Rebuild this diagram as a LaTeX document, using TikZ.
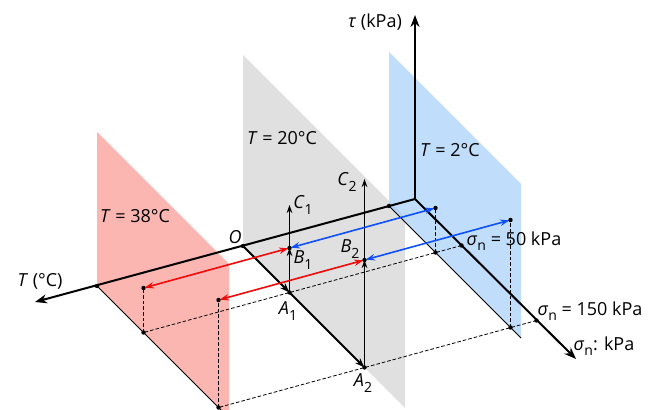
\documentclass[tikz,border=0pt]{standalone}
\usepackage{fontspec}
\setmainfont{Open Sans}
\usetikzlibrary{arrows.meta}

\definecolor{planered}{RGB}{252,182,177}
\definecolor{planegray}{RGB}{224,224,224}
\definecolor{planeblue}{RGB}{165,208,250}
\definecolor{arrred}{RGB}{240,10,10}
\definecolor{arrblue}{RGB}{15,80,250}

\newcommand{\sub}[2]{\textit{#1}\raisebox{-0.3em}{\fontsize{7pt}{7pt}\selectfont #2}}

\tikzset{
  axisline/.style={line width=1pt, -{Stealth[length=6pt,width=4.5pt]}},
  patharr/.style={line width=1pt, -{Stealth[length=5pt,width=3.5pt]}},
  vertarr/.style={line width=0.75pt, -{Stealth[length=4pt,width=2.8pt]}},
  redarr/.style={arrred, line width=0.8pt, {Stealth[length=4.6pt,width=3.2pt]}-{Stealth[length=4.6pt,width=3.2pt]}, shorten <=0.6pt, shorten >=0.6pt},
  bluearr/.style={arrblue, line width=0.8pt, {Stealth[length=4.6pt,width=3.2pt]}-{Stealth[length=4.6pt,width=3.2pt]}, shorten <=0.6pt, shorten >=0.6pt},
  guide/.style={line width=0.4pt, dash pattern=on 1.8pt off 1pt},
  baseline/.style={line width=0.5pt},
  lbl/.style={inner sep=0pt, font=\fontsize{9pt}{11pt}\selectfont},
  dot/.style={circle, fill=black, inner sep=0pt, minimum size=2.2pt}
}

\begin{document}
\begin{tikzpicture}[x=0.5pt, y=-0.5pt]
    \clip (0,0) rectangle (653,410);
    % 各温度の断面
    \fill[planered] (97,132) -- (97,286) -- (229,418) -- (229,264) -- cycle;
    \fill[planegray] (243,55) -- (243,246) -- (405,408) -- (405,217) -- cycle;
    \fill[planeblue, fill opacity=0.7] (389,52) -- (389,206) -- (521,338) -- (521,184) -- cycle;

    % 基準点
    \coordinate (K) at (415,199);
    \coordinate (Tend) at (35,302);
    \coordinate (tauend) at (415,15);
    \coordinate (send) at (576,359);
    \coordinate (Ob) at (389,206);
    \coordinate (O) at (243,246);
    \coordinate (Or) at (97,286);
    \coordinate (Ob2) at (521,338);
    \coordinate (Or2) at (229,418);
    \coordinate (K1) at (461.5,245.5);
    \coordinate (K2) at (536.5,320.5);
    \coordinate (Bb1) at (435.5,252.5);
    \coordinate (Bb2) at (510.5,327.5);
    \coordinate (Bt1) at (435.5,208);
    \coordinate (Bt2) at (510.5,220);
    \coordinate (Rb1) at (143.5,332.5);
    \coordinate (Rb2) at (218.5,407.5);
    \coordinate (Rt1) at (143.5,288);
    \coordinate (Rt2) at (218.5,300);
    \coordinate (A1) at (289.5,292.5);
    \coordinate (A2) at (364.5,367.5);
    \coordinate (B1) at (289.5,248);
    \coordinate (B2) at (364.5,260);
    \coordinate (C1) at (289.5,205);
    \coordinate (C2) at (364.5,179);

    % 補助線
    \draw[guide] (K1) -- (Rb1);
    \draw[guide] (K2) -- (Rb2);
    \foreach \p in {1,2} {
        \draw[guide] (Bb\p) -- (Bt\p);
        \draw[guide] (Rb\p) -- (Rt\p);
    }
    \draw[baseline] (Ob) -- (Ob2);
    \draw[baseline] (Or) -- (Or2);

    % 軸
    \draw[axisline] (K) -- (tauend);
    \draw[axisline] (K) -- (send);
    \draw[axisline] (K) -- (Tend);

    % 応力経路
    \draw[patharr] (O) -- (A1);
    \draw[patharr] (A1) -- (A2);
    \draw[vertarr] (A1) -- (C1);
    \draw[vertarr] (A1) -- (B1);
    \draw[vertarr] (A2) -- (C2);
    \draw[vertarr] (A2) -- (B2);

    % 温度の移動
    \draw[redarr] (B1) -- (Rt1);
    \draw[redarr] (B2) -- (Rt2);
    \draw[bluearr] (B1) -- (Bt1);
    \draw[bluearr] (B2) -- (Bt2);

    % 点
    \foreach \p in {Ob,O,Or,K1,K2,Bb1,Bb2,Bt1,Bt2,Rb1,Rb2,Rt1,Rt2,A1,A2,B1,B2} {
        \node[dot] at (\p) {};
    }

    % ラベル
    \node[lbl] (ltau) at (375,22) {\textit{τ} (kPa)};
    \node[lbl] (lT) at (40,281) {\textit{T} (°C)};
    \node[lbl] (lsig) at (604,346) {\sub{σ}{n}: kPa};
    \node[lbl] (ls50) at (514,241) {\sub{σ}{n} = 50 kPa};
    \node[lbl] (ls150) at (590,311) {\sub{σ}{n} = 150 kPa};
    \node[lbl] (lt20) at (282,138) {\textit{T} = 20°C};
    \node[lbl] (lt2) at (450,150) {\textit{T} = 2°C};
    \node[lbl] (lt38) at (135,216) {\textit{T} = 38°C};
    \node[lbl] (lO) at (235,237) {\textit{O}};
    \node[lbl] (lA1) at (288,311) {\sub{A}{1}};
    \node[lbl] (lA2) at (363,383) {\sub{A}{2}};
    \node[lbl] (lB1) at (303,260) {\sub{B}{1}};
    \node[lbl] (lB2) at (350,249) {\sub{B}{2}};
    \node[lbl] (lC1) at (303,205) {\sub{C}{1}};
    \node[lbl] (lC2) at (347,182) {\sub{C}{2}};

\end{tikzpicture}
\end{document}
